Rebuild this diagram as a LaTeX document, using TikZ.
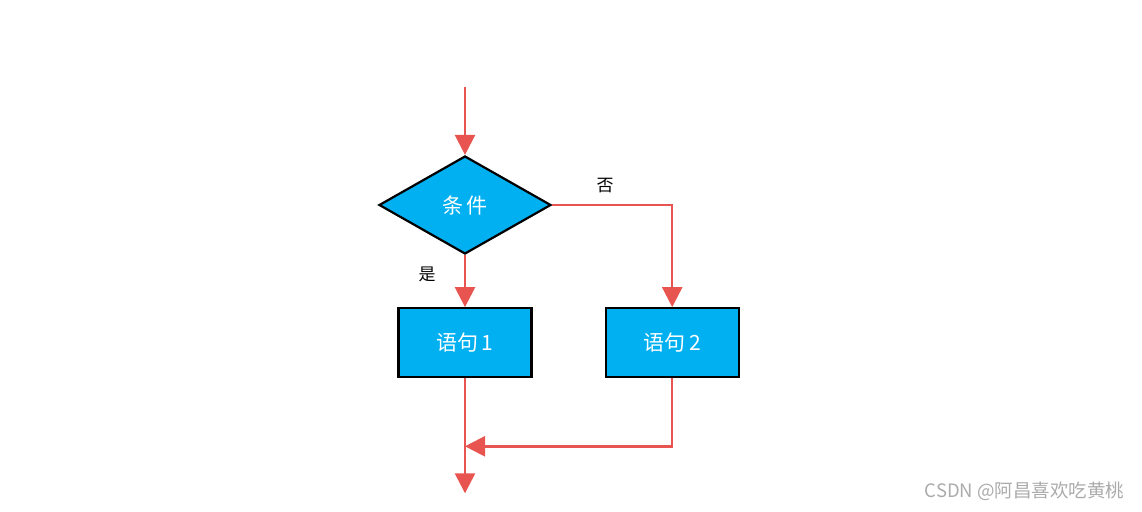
\documentclass[tikz,border=0pt]{standalone}
\usepackage{fontspec}
\newfontfamily\cjk{Noto Sans CJK SC}
\usetikzlibrary{shapes.geometric,positioning,arrows.meta}
\definecolor{boxblue}{HTML}{00B0F0}
\definecolor{flowred}{HTML}{E8544F}
\definecolor{markgray}{HTML}{ABABAB}

\begin{document}
\begin{tikzpicture}
        [x=1pt, y=-1pt,
         cond/.style={diamond, draw, line width=2.2pt, fill=boxblue, text=white,
                      minimum width=172pt, minimum height=98pt, inner sep=0pt,
                      font=\cjk\fontsize{21}{24}\selectfont},
         stmt/.style={rectangle, draw, line width=2.2pt, fill=boxblue, text=white,
                      minimum width=133pt, minimum height=69pt, inner sep=0pt,
                      font=\cjk\fontsize{21}{24}\selectfont},
         flow/.style={draw=flowred, line width=2.5pt,
                      -{Triangle[width=20pt,length=20pt]}, color=flowred},
         lbl/.style={font=\cjk\fontsize{17}{20}\selectfont}]
        \useasboundingbox (0,0) rectangle (1142,511);

        \node [cond]                   (c)  at (465,205) {条\,件};
        \node [stmt, below=52pt of c]  (s1)              {语句\,1};
        \node [stmt, right=72pt of s1] (s2)              {语句\,2};

        \coordinate [above=68pt of c.north]  (in);
        \coordinate [below=115pt of s1.south] (out);
        \coordinate [below=68pt of s1.south]  (join);

        \node [lbl] (no)  at (605,186) {否};
        \node [lbl] (yes) at (427,274) {是};

        \draw [flow] (in) -- (c.north);
        \draw [flow] (c.south) -- (s1.north);
        \draw [flow] (c.east) -| (s2.north);
        \draw [flow] (s1.south) -- (out);
        \draw [flow] (s2.south) |- (join);

        \node [font=\cjk\fontsize{18.5}{21}\selectfont, text=markgray, anchor=east]
              (mark) at (1128,491) {CSDN @阿昌喜欢吃黄桃};
\end{tikzpicture}
\end{document}
